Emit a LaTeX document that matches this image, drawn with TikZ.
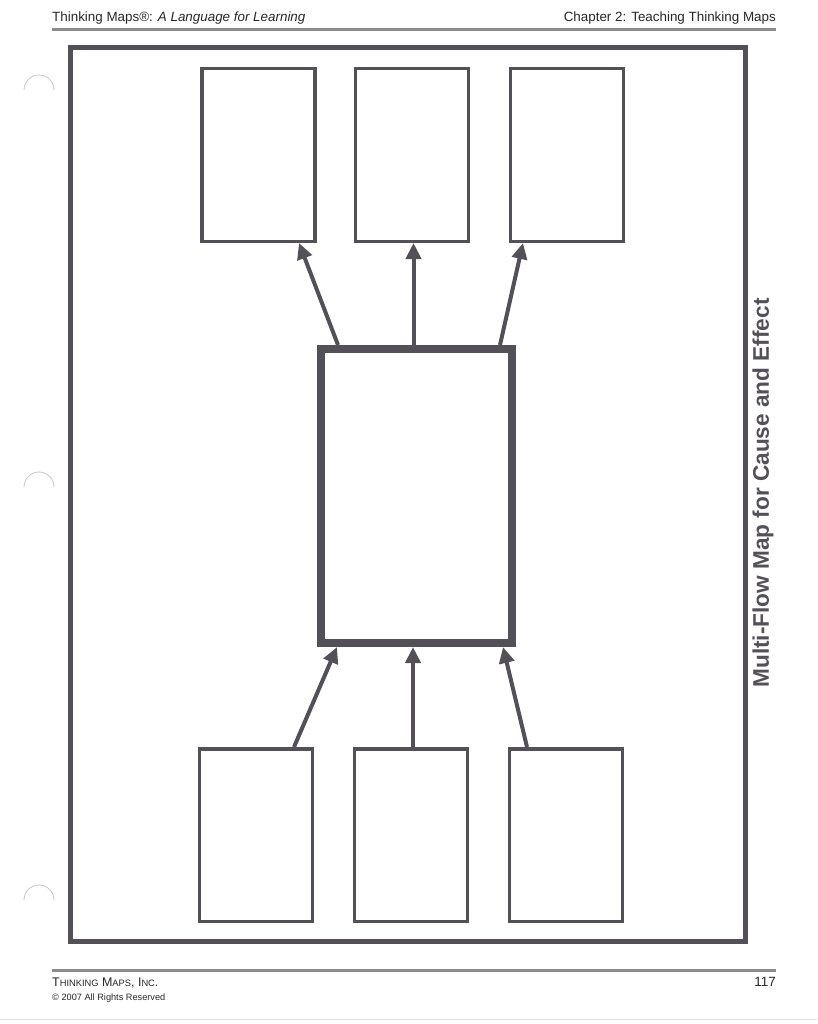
\documentclass[tikz,border=0pt]{standalone}
\usepackage{fontspec}
\setmainfont{Liberation Sans}
\usetikzlibrary{arrows.meta}
\definecolor{ink}{RGB}{84,80,88}
\definecolor{rule}{RGB}{140,140,145}
\definecolor{txt}{RGB}{40,40,40}
\tikzset{
  smallbox/.style={draw=ink, line width=3.5pt, fill=white, inner sep=0pt, minimum width=113pt, minimum height=172.5pt},
  bigbox/.style={draw=ink, line width=8pt, fill=white, inner sep=0pt, minimum width=191pt, minimum height=294pt},
  flowarrow/.style={draw=ink, line width=4pt, -{Triangle[length=16pt,width=15pt]}},
  frame/.style={draw=ink, line width=5pt},
  hrule/.style={draw=rule, line width=3pt},
  hole/.style={draw=black!22, line width=0.8pt},
  headtext/.style={text=txt, font=\fontsize{13.4}{15}\selectfont, inner sep=0pt},
}
\begin{document}
\begin{tikzpicture}[x=1pt,y=-1pt]
\useasboundingbox (0,0) rectangle (817,1024);
\fill[white] (0,0) rectangle (817,1024);
% header
\node[headtext, anchor=base west] (htl) at (52,22) {Thinking Maps®: \textit{A Language for Learning}};
\node[headtext, anchor=base east] (htr) at (776,22) {Chapter 2: Teaching Thinking Maps};
\draw[hrule] (52,29.5) -- (776,29.5);
% frame
\node[frame, inner sep=0pt, minimum width=675pt, minimum height=894pt] (fr) at (408,494.5) {};
% hole punches
\draw[hole] (24,90) arc[start angle=180, end angle=360, radius=15];
\draw[hole] (24,487) arc[start angle=180, end angle=360, radius=15];
\draw[hole] (24,900) arc[start angle=180, end angle=360, radius=15];
% boxes
\node[bigbox] (c) at (416.5,496) {};
\node[smallbox] (t1) at (258.5,155) {};
\node[smallbox] (t2) at (412,155) {};
\node[smallbox] (t3) at (567,155) {};
\node[smallbox] (b1) at (256,835) {};
\node[smallbox] (b2) at (411,835) {};
\node[smallbox] (b3) at (566,835) {};
% arrows
\draw[flowarrow] ([xshift=-78.5pt]c.north) -- ([xshift=40.5pt]t1.south);
\draw[flowarrow] ([xshift=-3pt]c.north) -- ([xshift=1.5pt]t2.south);
\draw[flowarrow] ([xshift=83.5pt]c.north) -- ([xshift=-44pt]t3.south);
\draw[flowarrow] ([xshift=38pt]b1.north) -- ([xshift=-79.5pt]c.south);
\draw[flowarrow] ([xshift=2pt]b2.north) -- ([xshift=-3.5pt]c.south);
\draw[flowarrow] ([xshift=-39pt]b3.north) -- ([xshift=86.5pt]c.south);
% side title
\node[rotate=90, text=ink, inner sep=0pt, font=\bfseries\fontsize{22.6}{26}\selectfont] (side) at (763,493) {Multi-Flow Map for Cause and Effect};
% footer
\draw[hrule] (52,970) -- (776,970);
\node[headtext, anchor=base west, font=\fontsize{12.5}{14}\selectfont] (ft1) at (52,986) {T{\fontsize{9.3}{11}\selectfont HINKING} M{\fontsize{9.3}{11}\selectfont APS}, I{\fontsize{9.3}{11}\selectfont NC}.};
\node[headtext, anchor=base west, font=\fontsize{9.2}{11}\selectfont] (ft2) at (52,1000) {© 2007 All Rights Reserved};
\node[headtext, anchor=base east] (pg) at (776,986) {117};
\draw[black!12, line width=1pt] (0,1019) -- (817,1019);
\end{tikzpicture}
\end{document}
